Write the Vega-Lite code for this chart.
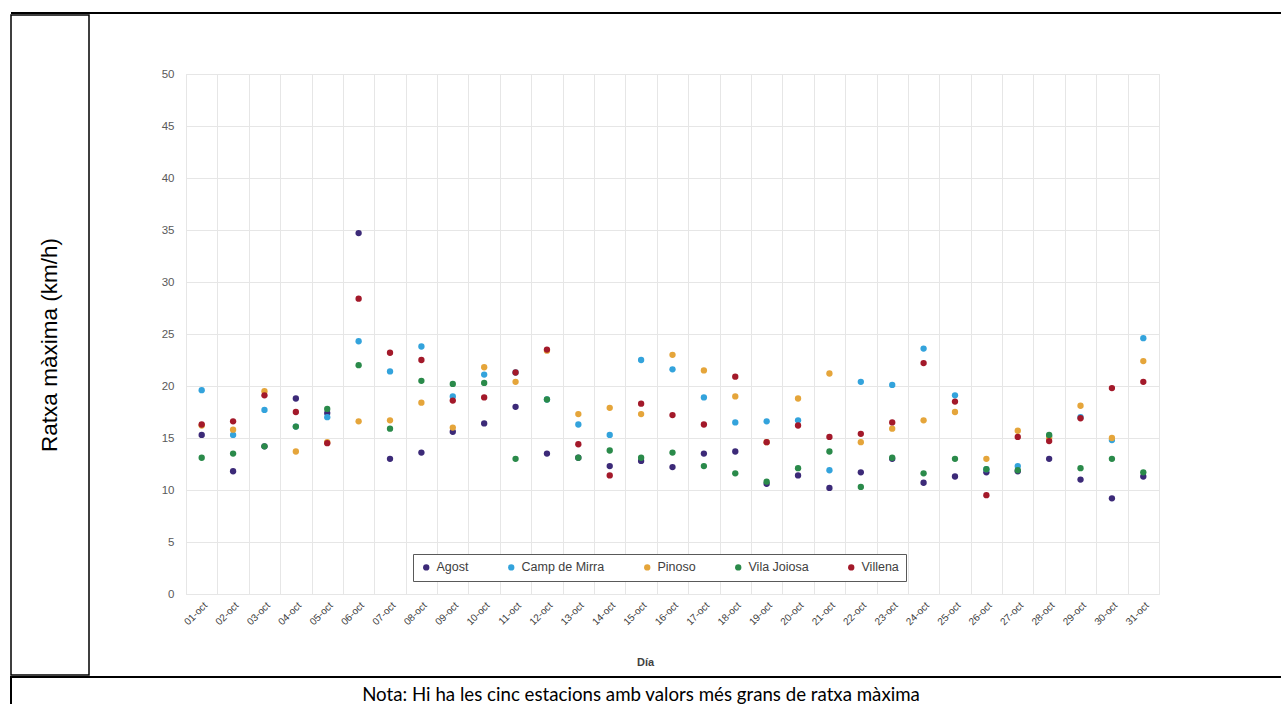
{
  "$schema": "https://vega.github.io/schema/vega-lite/v6.json",
  "padding": {"left": 10, "top": 12, "right": 0, "bottom": 0},
  "background": "white",
  "config": {
    "view": {"stroke": null},
    "font": "Liberation Sans",
    "concat": {"spacing": 0}
  },
  "datasets": {
    "pts": [
      {"d": "01-oct", "s": "Agost", "v": 15.3}, {"d": "02-oct", "s": "Agost", "v": 11.8}, {"d": "03-oct", "s": "Agost", "v": 14.2}, {"d": "04-oct", "s": "Agost", "v": 18.8}, {"d": "05-oct", "s": "Agost", "v": 17.4}, {"d": "06-oct", "s": "Agost", "v": 34.7}, {"d": "07-oct", "s": "Agost", "v": 13.0}, {"d": "08-oct", "s": "Agost", "v": 13.6}, {"d": "09-oct", "s": "Agost", "v": 15.6}, {"d": "10-oct", "s": "Agost", "v": 16.4}, {"d": "11-oct", "s": "Agost", "v": 18.0}, {"d": "12-oct", "s": "Agost", "v": 13.5}, {"d": "13-oct", "s": "Agost", "v": 13.1}, {"d": "14-oct", "s": "Agost", "v": 12.3}, {"d": "15-oct", "s": "Agost", "v": 12.8}, {"d": "16-oct", "s": "Agost", "v": 12.2}, {"d": "17-oct", "s": "Agost", "v": 13.5}, {"d": "18-oct", "s": "Agost", "v": 13.7}, {"d": "19-oct", "s": "Agost", "v": 10.6}, {"d": "20-oct", "s": "Agost", "v": 11.4}, {"d": "21-oct", "s": "Agost", "v": 10.2}, {"d": "22-oct", "s": "Agost", "v": 11.7}, {"d": "23-oct", "s": "Agost", "v": 13.0}, {"d": "24-oct", "s": "Agost", "v": 10.7}, {"d": "25-oct", "s": "Agost", "v": 11.3}, {"d": "26-oct", "s": "Agost", "v": 11.7}, {"d": "27-oct", "s": "Agost", "v": 11.8}, {"d": "28-oct", "s": "Agost", "v": 13.0}, {"d": "29-oct", "s": "Agost", "v": 11.0}, {"d": "30-oct", "s": "Agost", "v": 9.2}, {"d": "31-oct", "s": "Agost", "v": 11.3},
      {"d": "01-oct", "s": "Camp de Mirra", "v": 19.6}, {"d": "02-oct", "s": "Camp de Mirra", "v": 15.3}, {"d": "03-oct", "s": "Camp de Mirra", "v": 17.7}, {"d": "04-oct", "s": "Camp de Mirra", "v": 16.1}, {"d": "05-oct", "s": "Camp de Mirra", "v": 17.0}, {"d": "06-oct", "s": "Camp de Mirra", "v": 24.3}, {"d": "07-oct", "s": "Camp de Mirra", "v": 21.4}, {"d": "08-oct", "s": "Camp de Mirra", "v": 23.8}, {"d": "09-oct", "s": "Camp de Mirra", "v": 19.0}, {"d": "10-oct", "s": "Camp de Mirra", "v": 21.1}, {"d": "11-oct", "s": "Camp de Mirra", "v": 21.3}, {"d": "12-oct", "s": "Camp de Mirra", "v": 18.7}, {"d": "13-oct", "s": "Camp de Mirra", "v": 16.3}, {"d": "14-oct", "s": "Camp de Mirra", "v": 15.3}, {"d": "15-oct", "s": "Camp de Mirra", "v": 22.5}, {"d": "16-oct", "s": "Camp de Mirra", "v": 21.6}, {"d": "17-oct", "s": "Camp de Mirra", "v": 18.9}, {"d": "18-oct", "s": "Camp de Mirra", "v": 16.5}, {"d": "19-oct", "s": "Camp de Mirra", "v": 16.6}, {"d": "20-oct", "s": "Camp de Mirra", "v": 16.7}, {"d": "21-oct", "s": "Camp de Mirra", "v": 11.9}, {"d": "22-oct", "s": "Camp de Mirra", "v": 20.4}, {"d": "23-oct", "s": "Camp de Mirra", "v": 20.1}, {"d": "24-oct", "s": "Camp de Mirra", "v": 23.6}, {"d": "25-oct", "s": "Camp de Mirra", "v": 19.1}, {"d": "26-oct", "s": "Camp de Mirra", "v": 12.0}, {"d": "27-oct", "s": "Camp de Mirra", "v": 12.3}, {"d": "28-oct", "s": "Camp de Mirra", "v": 15.2}, {"d": "29-oct", "s": "Camp de Mirra", "v": 17.0}, {"d": "30-oct", "s": "Camp de Mirra", "v": 14.8}, {"d": "31-oct", "s": "Camp de Mirra", "v": 24.6},
      {"d": "01-oct", "s": "Pinoso", "v": 16.2}, {"d": "02-oct", "s": "Pinoso", "v": 15.8}, {"d": "03-oct", "s": "Pinoso", "v": 19.5}, {"d": "04-oct", "s": "Pinoso", "v": 13.7}, {"d": "05-oct", "s": "Pinoso", "v": 14.6}, {"d": "06-oct", "s": "Pinoso", "v": 16.6}, {"d": "07-oct", "s": "Pinoso", "v": 16.7}, {"d": "08-oct", "s": "Pinoso", "v": 18.4}, {"d": "09-oct", "s": "Pinoso", "v": 16.0}, {"d": "10-oct", "s": "Pinoso", "v": 21.8}, {"d": "11-oct", "s": "Pinoso", "v": 20.4}, {"d": "12-oct", "s": "Pinoso", "v": 23.4}, {"d": "13-oct", "s": "Pinoso", "v": 17.3}, {"d": "14-oct", "s": "Pinoso", "v": 17.9}, {"d": "15-oct", "s": "Pinoso", "v": 17.3}, {"d": "16-oct", "s": "Pinoso", "v": 23.0}, {"d": "17-oct", "s": "Pinoso", "v": 21.5}, {"d": "18-oct", "s": "Pinoso", "v": 19.0}, {"d": "19-oct", "s": "Pinoso", "v": 14.6}, {"d": "20-oct", "s": "Pinoso", "v": 18.8}, {"d": "21-oct", "s": "Pinoso", "v": 21.2}, {"d": "22-oct", "s": "Pinoso", "v": 14.6}, {"d": "23-oct", "s": "Pinoso", "v": 15.9}, {"d": "24-oct", "s": "Pinoso", "v": 16.7}, {"d": "25-oct", "s": "Pinoso", "v": 17.5}, {"d": "26-oct", "s": "Pinoso", "v": 13.0}, {"d": "27-oct", "s": "Pinoso", "v": 15.7}, {"d": "28-oct", "s": "Pinoso", "v": 15.0}, {"d": "29-oct", "s": "Pinoso", "v": 18.1}, {"d": "30-oct", "s": "Pinoso", "v": 15.0}, {"d": "31-oct", "s": "Pinoso", "v": 22.4},
      {"d": "01-oct", "s": "Vila Joiosa", "v": 13.1}, {"d": "02-oct", "s": "Vila Joiosa", "v": 13.5}, {"d": "03-oct", "s": "Vila Joiosa", "v": 14.2}, {"d": "04-oct", "s": "Vila Joiosa", "v": 16.1}, {"d": "05-oct", "s": "Vila Joiosa", "v": 17.8}, {"d": "06-oct", "s": "Vila Joiosa", "v": 22.0}, {"d": "07-oct", "s": "Vila Joiosa", "v": 15.9}, {"d": "08-oct", "s": "Vila Joiosa", "v": 20.5}, {"d": "09-oct", "s": "Vila Joiosa", "v": 20.2}, {"d": "10-oct", "s": "Vila Joiosa", "v": 20.3}, {"d": "11-oct", "s": "Vila Joiosa", "v": 13.0}, {"d": "12-oct", "s": "Vila Joiosa", "v": 18.7}, {"d": "13-oct", "s": "Vila Joiosa", "v": 13.1}, {"d": "14-oct", "s": "Vila Joiosa", "v": 13.8}, {"d": "15-oct", "s": "Vila Joiosa", "v": 13.1}, {"d": "16-oct", "s": "Vila Joiosa", "v": 13.6}, {"d": "17-oct", "s": "Vila Joiosa", "v": 12.3}, {"d": "18-oct", "s": "Vila Joiosa", "v": 11.6}, {"d": "19-oct", "s": "Vila Joiosa", "v": 10.8}, {"d": "20-oct", "s": "Vila Joiosa", "v": 12.1}, {"d": "21-oct", "s": "Vila Joiosa", "v": 13.7}, {"d": "22-oct", "s": "Vila Joiosa", "v": 10.3}, {"d": "23-oct", "s": "Vila Joiosa", "v": 13.1}, {"d": "24-oct", "s": "Vila Joiosa", "v": 11.6}, {"d": "25-oct", "s": "Vila Joiosa", "v": 13.0}, {"d": "26-oct", "s": "Vila Joiosa", "v": 12.0}, {"d": "27-oct", "s": "Vila Joiosa", "v": 11.9}, {"d": "28-oct", "s": "Vila Joiosa", "v": 15.3}, {"d": "29-oct", "s": "Vila Joiosa", "v": 12.1}, {"d": "30-oct", "s": "Vila Joiosa", "v": 13.0}, {"d": "31-oct", "s": "Vila Joiosa", "v": 11.7},
      {"d": "01-oct", "s": "Villena", "v": 16.3}, {"d": "02-oct", "s": "Villena", "v": 16.6}, {"d": "03-oct", "s": "Villena", "v": 19.1}, {"d": "04-oct", "s": "Villena", "v": 17.5}, {"d": "05-oct", "s": "Villena", "v": 14.5}, {"d": "06-oct", "s": "Villena", "v": 28.4}, {"d": "07-oct", "s": "Villena", "v": 23.2}, {"d": "08-oct", "s": "Villena", "v": 22.5}, {"d": "09-oct", "s": "Villena", "v": 18.6}, {"d": "10-oct", "s": "Villena", "v": 18.9}, {"d": "11-oct", "s": "Villena", "v": 21.3}, {"d": "12-oct", "s": "Villena", "v": 23.5}, {"d": "13-oct", "s": "Villena", "v": 14.4}, {"d": "14-oct", "s": "Villena", "v": 11.4}, {"d": "15-oct", "s": "Villena", "v": 18.3}, {"d": "16-oct", "s": "Villena", "v": 17.2}, {"d": "17-oct", "s": "Villena", "v": 16.3}, {"d": "18-oct", "s": "Villena", "v": 20.9}, {"d": "19-oct", "s": "Villena", "v": 14.6}, {"d": "20-oct", "s": "Villena", "v": 16.2}, {"d": "21-oct", "s": "Villena", "v": 15.1}, {"d": "22-oct", "s": "Villena", "v": 15.4}, {"d": "23-oct", "s": "Villena", "v": 16.5}, {"d": "24-oct", "s": "Villena", "v": 22.2}, {"d": "25-oct", "s": "Villena", "v": 18.5}, {"d": "26-oct", "s": "Villena", "v": 9.5}, {"d": "27-oct", "s": "Villena", "v": 15.1}, {"d": "28-oct", "s": "Villena", "v": 14.7}, {"d": "29-oct", "s": "Villena", "v": 16.9}, {"d": "30-oct", "s": "Villena", "v": 19.8}, {"d": "31-oct", "s": "Villena", "v": 20.4}
    ]
  },
  "vconcat": [
    {
      "width": 1290,
      "height": 2,
      "view": {"fill": "black", "stroke": null},
      "data": {"values": []},
      "mark": {"type": "point"},
      "encoding": {}
    },
    {
      "hconcat": [
        {
          "width": 78,
          "height": 660,
          "view": {"stroke": "black", "strokeWidth": 1.5},
          "data": {"values": [{"t": "Ratxa màxima (km/h)"}]},
          "mark": {"type": "text", "angle": 270, "fontSize": 22.5, "font": "Liberation Sans", "color": "black", "align": "center", "baseline": "middle"},
          "encoding": {"text": {"field": "t"}}
        },
        {
          "vconcat": [
            {
              "width": 1,
              "height": 52,
              "data": {"values": []},
              "mark": {"type": "point"},
              "encoding": {}
            },
            {
              "width": 973,
              "height": 520,
              "view": {"stroke": "#e2e2e2", "strokeWidth": 1},
              "data": {"name": "pts"},
              "mark": {"type": "circle", "size": 40, "opacity": 1},
              "encoding": {
                "x": {
                  "field": "d",
                  "type": "nominal",
                  "sort": null,
                  "scale": {"type": "band", "paddingInner": 0, "paddingOuter": 0},
                  "axis": {
                    "title": "Día",
                    "titleFontWeight": "bold",
                    "titleFontSize": 11,
                    "titleColor": "#404040",
                    "titleX": 459,
                    "titleY": 62,
                    "labelAngle": -45,
                    "labelFontSize": 10,
                    "labelColor": "#404040",
                    "labelPadding": 6,
                    "tickBand": "extent",
                    "ticks": false,
                    "domain": false,
                    "grid": true,
                    "gridColor": "#e6e6e6"
                  }
                },
                "y": {
                  "field": "v",
                  "type": "quantitative",
                  "scale": {"domain": [0, 50], "nice": false},
                  "axis": {
                    "title": null,
                    "values": [0, 5, 10, 15, 20, 25, 30, 35, 40, 45, 50],
                    "labelFontSize": 11.5,
                    "labelColor": "#595959",
                    "labelPadding": 12,
                    "ticks": false,
                    "domain": false,
                    "grid": true,
                    "gridColor": "#e6e6e6"
                  }
                },
                "color": {
                  "field": "s",
                  "type": "nominal",
                  "sort": ["Agost", "Camp de Mirra", "Pinoso", "Vila Joiosa", "Villena"],
                  "scale": {
                    "domain": ["Agost", "Camp de Mirra", "Pinoso", "Vila Joiosa", "Villena"],
                    "range": ["#3c2a78", "#33a3dc", "#e5a53a", "#2a8a4a", "#a3192a"]
                  },
                  "legend": {
                    "title": null,
                    "orient": "none",
                    "legendX": 402,
                    "legendY": 542,
                    "direction": "horizontal",
                    "strokeColor": "#595959",
                    "fillColor": "white",
                    "padding": 7,
                    "columnPadding": 36,
                    "labelFontSize": 12.5,
                    "labelColor": "#404040",
                    "symbolType": "circle",
                    "symbolSize": 40
                  }
                }
              }
            }
          ]
        }
      ],
      "spacing": 70
    },
    {
      "width": 1290,
      "height": 40,
      "view": {"stroke": "black", "strokeWidth": 2},
      "data": {"values": [{"t": "Nota: Hi ha les cinc estacions amb valors més grans de ratxa màxima"}]},
      "mark": {"type": "text", "fontSize": 18.7, "font": "Lato", "color": "black", "dx": -15, "dy": -2},
      "encoding": {"text": {"field": "t"}}
    }
  ]
}
